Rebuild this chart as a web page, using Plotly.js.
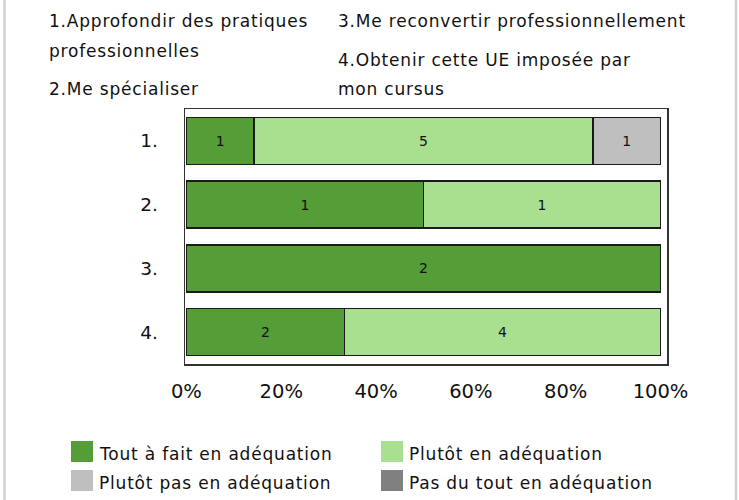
<!DOCTYPE html>
<html>
<head>
<meta charset="utf-8">
<script src="https://cdn.plot.ly/plotly-3.0.1.min.js"></script>
<style>
  html, body { margin: 0; padding: 0; background: #fff; }
  #chart { width: 739px; height: 500px; }
  #chart .annotation-text { letter-spacing: 0.8px; }
</style>
</head>
<body>
<div id="chart"></div>
<script>
// ---- data ----
const categories = ["1.", "2.", "3.", "4."];
const seriesNames = ["Tout à fait en adéquation", "Plutôt en adéquation", "Plutôt pas en adéquation", "Pas du tout en adéquation"];
const toutAFait = [1, 1, 2, 2];
const plutotEn = [5, 1, 0, 4];
const plutotPas = [1, 0, 0, 0];
const pasDuTout = [0, 0, 0, 0];
const seriesColors = ["#559E37", "#A9E090", "#BFBFBF", "#808080"];
const xTickVals = [0, 0.2, 0.4, 0.6, 0.8, 1];
const topLabels = [
  "1.Approfondir des pratiques", "professionnelles", "2.Me spécialiser",
  "3.Me reconvertir professionnellement", "4.Obtenir cette UE imposée par", "mon cursus"
];

// ---- layout helpers (pixel -> paper) ----
const W = 739, H = 500;
const M = { l: 185, r: 72, t: 109, b: 136 };
const PW = W - M.l - M.r, PH = H - M.t - M.b;
const px = x => (x - M.l) / PW;
const py = y => (H - M.b - y) / PH;

const FONT = "DejaVu Sans, Verdana, sans-serif";
const seriesValues = [toutAFait, plutotEn, plutotPas, pasDuTout];

const traces = seriesValues.map((vals, i) => ({
  type: "bar",
  orientation: "h",
  name: seriesNames[i],
  y: categories,
  x: vals,
  text: vals.map(v => v > 0 ? String(v) : ""),
  textposition: "inside",
  insidetextanchor: "middle",
  textangle: 0,
  constraintext: "none",
  textfont: { family: FONT, size: 14, color: "#111" },
  marker: { color: seriesColors[i], line: { color: "#1a1a1a", width: 1.5 } },
  hoverinfo: "skip",
  showlegend: false
}));

const annotations = [];
const shapes = [];
// top text block
const topPos = [
  [47, 21], [47, 51], [47, 89],
  [336, 21], [336, 60], [336, 89]
];
topLabels.forEach((t, i) => {
  annotations.push({
    xref: "paper", yref: "paper", x: px(topPos[i][0]), y: py(topPos[i][1]),
    xanchor: "left", yanchor: "middle", align: "left", text: t, showarrow: false,
    font: { family: FONT, size: 17, color: "#111" }
  });
});
// custom legend
const legPos = [[71, 441], [381, 441], [71, 470], [381, 470]];
seriesNames.forEach((n, i) => {
  const [lx, ly] = legPos[i];
  shapes.push({
    type: "rect", xref: "paper", yref: "paper",
    x0: px(lx), x1: px(lx + 22), y0: py(ly), y1: py(ly + 21),
    fillcolor: seriesColors[i], line: { width: 0 }
  });
  annotations.push({
    xref: "paper", yref: "paper", x: px(lx + 26), y: py(ly + 12.5),
    xanchor: "left", yanchor: "middle", align: "left", text: n, showarrow: false,
    font: { family: FONT, size: 17, color: "#111" }
  });
});
// outer page border lines
[[4.5], [736]].forEach(([bx]) => {
  shapes.push({
    type: "line", xref: "paper", yref: "paper",
    x0: px(bx), x1: px(bx), y0: py(0), y1: py(500),
    line: { color: "#d0d0d0", width: 2.5 }
  });
});

const layout = {
  width: W, height: H,
  margin: M,
  barmode: "stack",
  barnorm: "fraction",
  bargap: 0.265,
  paper_bgcolor: "#fff",
  plot_bgcolor: "#fff",
  showlegend: false,
  font: { family: FONT, color: "#111" },
  xaxis: {
    range: [-0.003, 1.0137],
    tickvals: xTickVals,
    tickformat: ".0%",
    showgrid: false, zeroline: false,
    showline: true, mirror: true, linecolor: "#333", linewidth: 1.5,
    ticks: "", ticklabelstandoff: 9,
    tickfont: { family: FONT, size: 19.5, color: "#111" },
    fixedrange: true
  },
  yaxis: {
    type: "category",
    categoryorder: "array", categoryarray: categories,
    range: [3.5, -0.5],
    showgrid: false, zeroline: false,
    showline: true, mirror: true, linecolor: "#333", linewidth: 1.5,
    ticks: "", ticklabelstandoff: 22,
    tickfont: { family: FONT, size: 18.5, color: "#111" },
    fixedrange: true
  },
  annotations: annotations,
  shapes: shapes
};

Plotly.newPlot("chart", traces, layout, { displayModeBar: false, staticPlot: true });
</script>
</body>
</html>
